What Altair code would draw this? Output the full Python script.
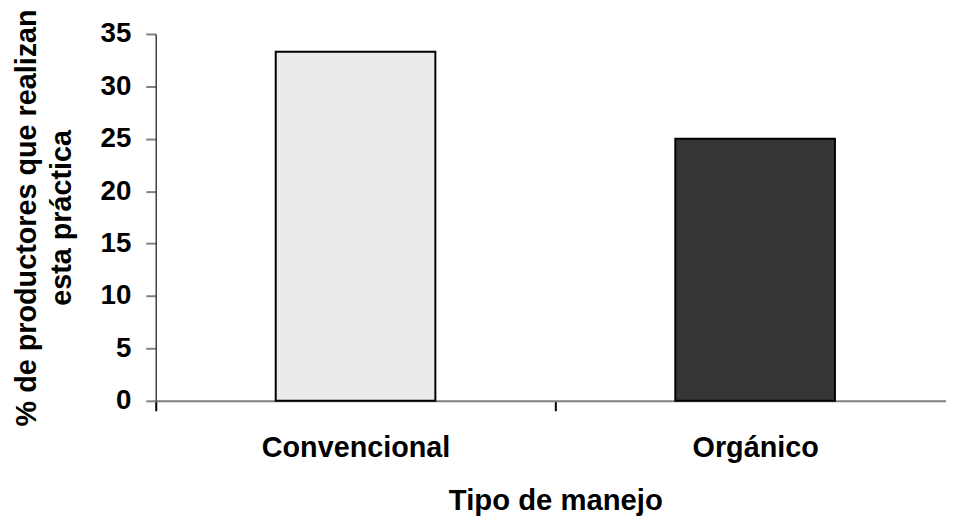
import altair as alt
import pandas as pd

categories = ["Convencional", "Orgánico"]
values = [33.3, 25.0]
bar_colors = ["#ebebeb", "#363636"]
y_ticks = [0, 5, 10, 15, 20, 25, 30, 35]
y_title = ["% de productores que realizan", "esta práctica" + "\u00a0" * 9]
x_title = "Tipo de manejo"

# category slot index (centre of each category slot)
positions = [i + 0.5 for i in range(len(categories))]
df = pd.DataFrame({"tipo": categories, "pct": values, "pos": positions})

FONT = "Liberation Sans"
PLOT_W = 797
SLOT_PX = 403  # width of one category slot in pixels

label_expr = " : ".join(
    f"datum.value == {p} ? '{c}'" for p, c in zip(positions, categories)
) + " : ''"
x_tick_values = sorted([float(i) for i in range(len(categories) + 1)] + positions)

chart = (
    alt.Chart(df)
    .mark_bar(stroke="black", strokeWidth=2, width=161)
    .encode(
        x=alt.X(
            "pos:Q",
            scale=alt.Scale(domain=[0, PLOT_W / SLOT_PX], nice=False, zero=False, padding=0),
            axis=alt.Axis(
                title=x_title,
                values=x_tick_values,
                labelExpr=label_expr,
                labelAngle=0,
                labelLimit=500,
                labelOverlap=False,
                grid=False,
                domainColor="#808080",
                domainWidth=2,
                tickColor="black",
                tickWidth=2,
                tickSize=10,
                tickOpacity={"condition": {"test": "datum.value % 1 != 0", "value": 0}, "value": 1},
                labelFont=FONT,
                labelFontSize=29,
                labelFontWeight="bold",
                labelColor="black",
                labelPadding=23,
                titleFont=FONT,
                titleFontSize=29.5,
                titleFontWeight="bold",
                titleColor="black",
                titlePadding=25,
                titleX=403,
                titleAnchor="middle",
            ),
        ),
        y=alt.Y(
            "pct:Q",
            scale=alt.Scale(domain=[0, 35], nice=False),
            axis=alt.Axis(
                values=y_ticks,
                title=y_title,
                grid=False,
                domainColor="#404040",
                domainWidth=1.5,
                tickColor="#808080",
                tickWidth=2,
                tickSize=10,
                labelFont=FONT,
                labelFontSize=28,
                labelFontWeight="bold",
                labelColor="black",
                labelPadding=15,
                titleFont=FONT,
                titleFontSize=29,
                titleFontWeight="bold",
                titleColor="black",
                titleAngle=270,
                titleAlign="center",
                titleBaseline="alphabetic",
                titleLineHeight=35,
                titleX=-121,
                titleY=185,
            ),
        ),
        color=alt.Color(
            "tipo:N",
            scale=alt.Scale(domain=categories, range=bar_colors),
            legend=None,
        ),
    )
    .properties(
        width=PLOT_W,
        height=370,
        autosize=alt.AutoSizeParams(type="none"),
        padding={"left": 149, "top": 24, "right": 0, "bottom": 118},
    )
    .configure_view(stroke=None)
)

chart.save("out.html", embed_options={"renderer": "svg", "actions": False})
